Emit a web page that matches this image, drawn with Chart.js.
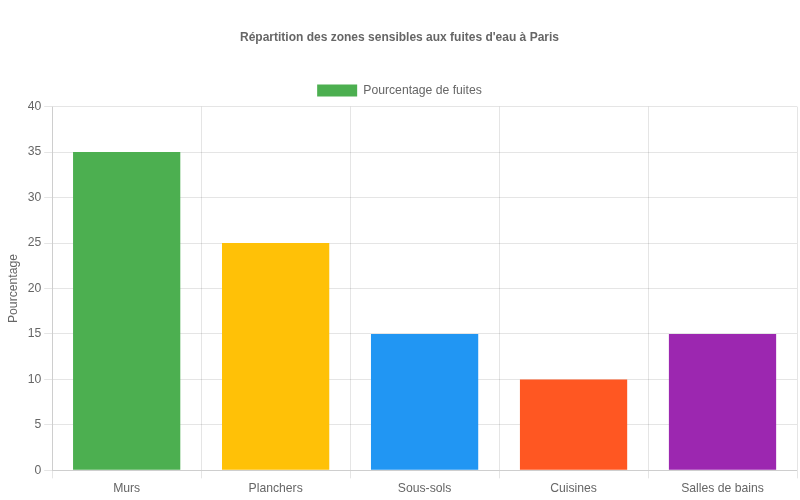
<!DOCTYPE html>
<html>
<head>
<meta charset="utf-8">
<script src="https://cdn.jsdelivr.net/npm/chart.js@4"></script>
<style>
  html, body { margin: 0; padding: 0; background: #fff; }
  #wrap { width: 800px; height: 500px; }
</style>
</head>
<body>
<div id="wrap"><canvas id="bar-chart"></canvas></div>
<script>
const categories = ['Murs', 'Planchers', 'Sous-sols', 'Cuisines', 'Salles de bains'];
const leakShare = [35, 25, 15, 10, 15];
const barColors = ['#4CAF50', '#FFC107', '#2196F3', '#FF5722', '#9C27B0'];

Chart.defaults.font.family = "'Liberation Sans', Arial, sans-serif";
Chart.defaults.font.size = 12.2;
Chart.defaults.color = '#666';

const config = {
  type: 'bar',
  data: {
    labels: categories,
    datasets: [{
      label: 'Pourcentage de fuites',
      data: leakShare,
      backgroundColor: barColors,
      borderWidth: 0,
    }],
  },
  options: {
    responsive: true,
    maintainAspectRatio: false,
    animation: false,
    layout: { padding: { left: 2, right: 3, bottom: 1 } },
    plugins: {
      title: {
        display: true,
        text: "Répartition des zones sensibles aux fuites d'eau à Paris",
        font: { size: 12, weight: 'bold' },
        padding: { top: 30, bottom: 30 },
      },
      legend: {
        position: 'top',
      },
    },
    scales: {
      y: {
        beginAtZero: true,
        max: 40,
        ticks: { stepSize: 5 },
        title: { display: true, text: 'Pourcentage' },
      },
    },
  },
};

const ctx = document.getElementById('bar-chart').getContext('2d');
window.myBar = new Chart(ctx, config);
</script>
</body>
</html>
